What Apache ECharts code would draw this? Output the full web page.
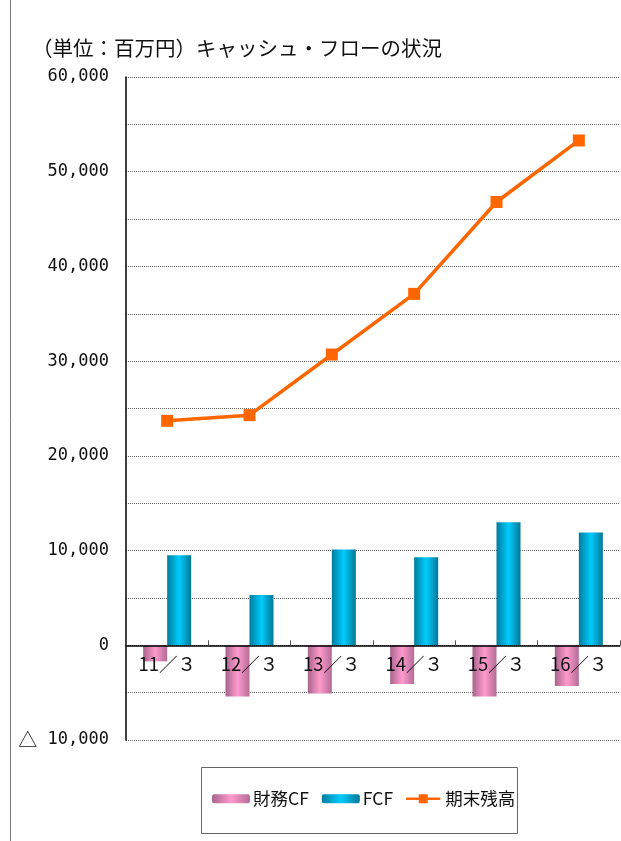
<!DOCTYPE html>
<html><head><meta charset="utf-8">
<script src="https://cdn.jsdelivr.net/npm/echarts@6/dist/echarts.min.js"></script>
<style>html,body{margin:0;padding:0;background:#fff}#c{width:621px;height:841px}</style>
</head><body><div id="c"></div>
<script>
var categories = ['11／３','12／３','13／３','14／３','15／３','16／３'];
var financeCF = [-1700, -5400, -5100, -4100, -5400, -4300];
var fcf = [9500, 5300, 10100, 9300, 13000, 11900];
var endBalance = [23700, 24300, 30700, 37100, 46800, 53300];
var seriesNames = ['財務CF', 'FCF', '期末残高'];
var yTicks = {min:-10000, max:60000, step:5000, labelStep:10000};
var titleText = '（単位：百万円）キャッシュ・フローの状況';

function fmt(v){
  var a = Math.abs(v);
  var s = String(a).replace(/\B(?=(\d{3})+(?!\d))/g, ',');
  return v < 0 ? '{t|△} ' + s : s;
}
var jp = '"Noto Sans CJK JP", sans-serif';
var mono = '"DejaVu Sans Mono", monospace';
var pinkGrad = {type:'linear',x:0,y:0,x2:1,y2:0,colorStops:[
  {offset:0,color:'#a8648c'},{offset:0.5,color:'#ff9acd'},{offset:1,color:'#b46c96'}]};
var cyanGrad = {type:'linear',x:0,y:0,x2:1,y2:0,colorStops:[
  {offset:0,color:'#007c9c'},{offset:0.5,color:'#00ccff'},{offset:1,color:'#007896'}]};

var gridTop = 77, gridBottom = 101, H = 841;
var plotH = H - gridTop - gridBottom;
var zeroOffset = -plotH * (0 - yTicks.min) / (yTicks.max - yTicks.min);

var chart = echarts.init(document.getElementById('c'));
chart.setOption({
  animation:false,
  title:{text:titleText,left:27,top:33,textStyle:{fontFamily:jp,fontSize:20.5,fontWeight:'normal',color:'#111'}},
  grid:{left:126,right:1,top:gridTop,bottom:gridBottom},
  graphic:[
    {type:'line',shape:{x1:10.5,y1:0,x2:10.5,y2:841},style:{stroke:'#777',lineWidth:1}},
    {type:'rect',shape:{x:201.5,y:767.5,width:316,height:66},style:{fill:'none',stroke:'#666',lineWidth:1},z:-1}
  ],
  legend:{
    data:[
      {name:seriesNames[0]},
      {name:seriesNames[1]},
      {name:seriesNames[2],icon:'path://M0,3.5L14,3.5L14,0L24,0L24,3.5L38,3.5L38,6.5L24,6.5L24,10L14,10L14,6.5L0,6.5Z'}
    ],
    left:212,top:790,padding:0,itemWidth:38,itemHeight:9,itemGap:13,
    textStyle:{fontFamily:jp,fontSize:17.5,color:'#111',padding:[0,0,0,-2]}
  },
  xAxis:{
    type:'category',data:categories,offset:zeroOffset,z:10,
    axisLine:{onZero:false,lineStyle:{color:'#000',width:1.5}},
    axisTick:{show:true,inside:true,length:5,lineStyle:{color:'#555'}},
    axisLabel:{fontFamily:jp,fontSize:18.5,color:'#111',margin:9},
    splitLine:{show:false}
  },
  yAxis:{
    type:'value',min:yTicks.min,max:yTicks.max,interval:yTicks.step,
    axisLine:{show:true,lineStyle:{color:'#000',width:1.5}},
    axisTick:{show:false},
    axisLabel:{fontFamily:mono,fontSize:17,color:'#111',margin:17,
      rich:{t:{fontFamily:jp,fontSize:19,color:'#111'}},
      formatter:function(v){ return (v % yTicks.labelStep === 0) ? fmt(v) : ''; }},
    splitLine:{show:true,showMinLine:true,showMaxLine:true,lineStyle:{color:'#666',type:'dotted',width:1}}
  },
  series:[
    {name:seriesNames[0],type:'bar',data:financeCF,barWidth:24,barGap:'0%',itemStyle:{color:pinkGrad}},
    {name:seriesNames[1],type:'bar',data:fcf,barWidth:24,barGap:'0%',itemStyle:{color:cyanGrad}},
    {name:seriesNames[2],type:'line',data:endBalance,symbol:'rect',symbolSize:12,
      lineStyle:{color:'#ff6600',width:3.5},itemStyle:{color:'#ff6600'},z:5}
  ]
});
</script></body></html>
